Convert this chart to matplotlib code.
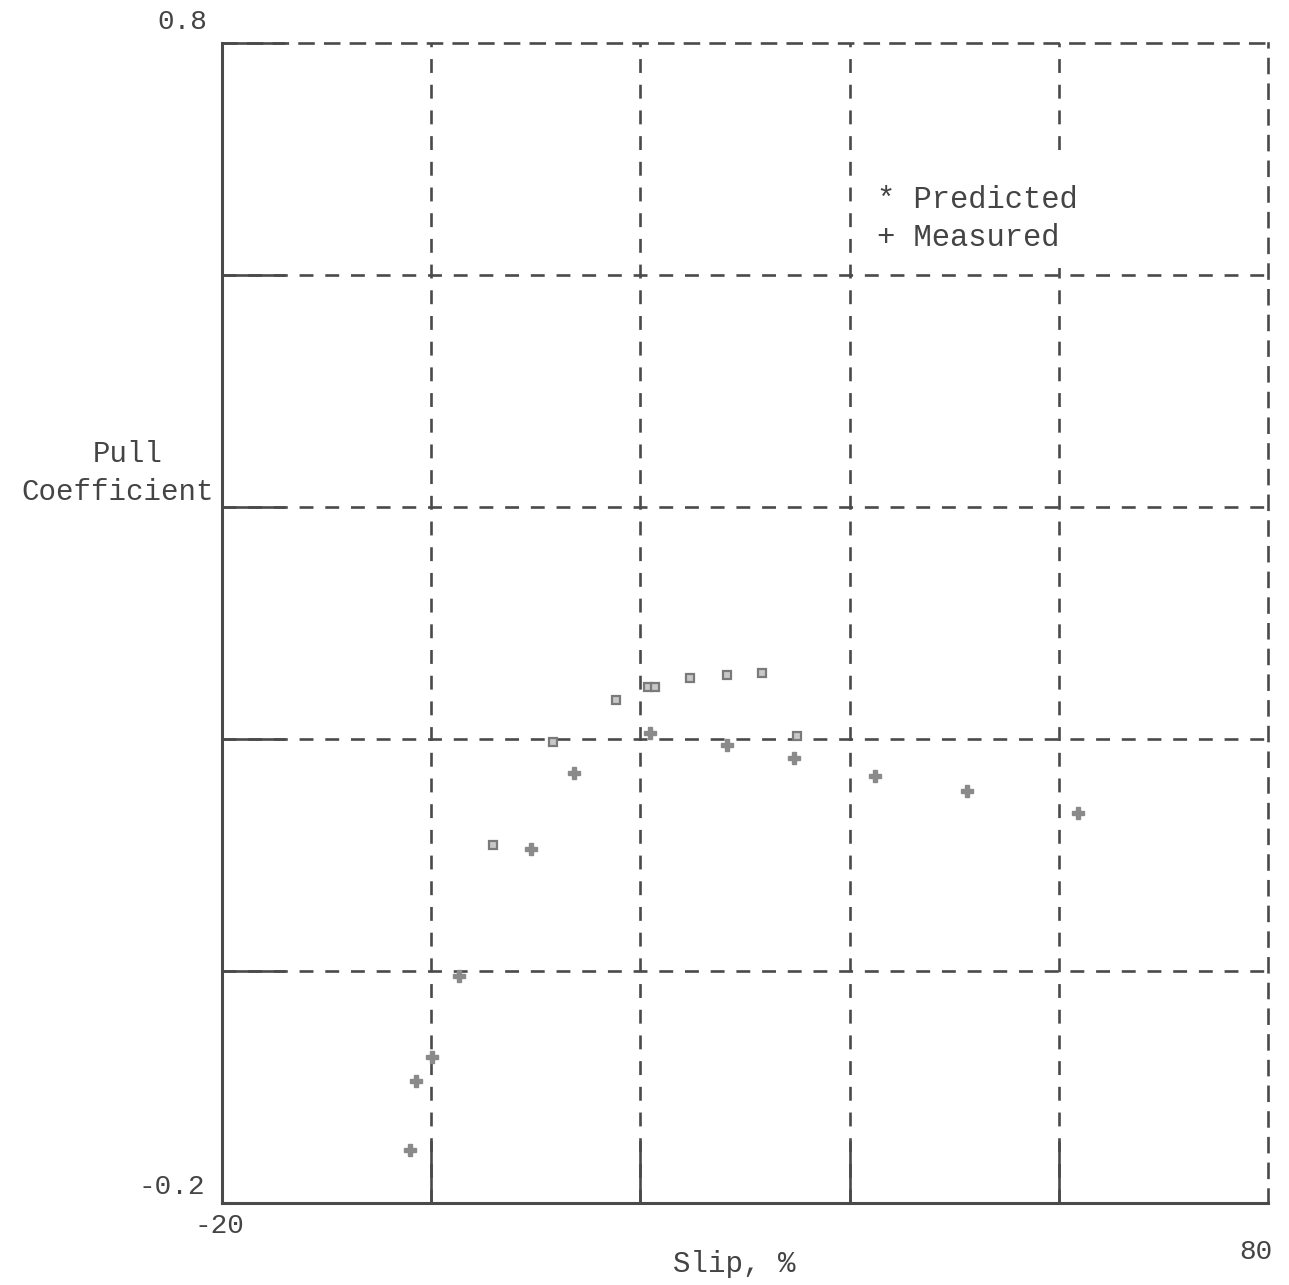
import matplotlib
matplotlib.use("Agg")
import matplotlib.pyplot as plt
from matplotlib.patches import Rectangle

plt.rcParams['lines.scale_dashes'] = False
plt.rcParams['font.family'] = ['Liberation Mono', 'DejaVu Sans Mono']

# ---- data ----
pred_slip = [5.9, 11.6, 17.7, 20.7, 21.4, 24.7, 28.3, 31.6, 35.0]
pred_pull = [0.109, 0.197, 0.234, 0.245, 0.245, 0.253, 0.255, 0.257, 0.203]

meas_slip = [-2.0, -1.45, 0.1, 2.7, 9.5, 13.65, 20.9, 28.3, 34.7, 42.4, 51.2, 61.8]
meas_pull = [-0.154, -0.095, -0.074, -0.004, 0.105, 0.171, 0.205, 0.195, 0.184, 0.168, 0.155, 0.136]

x_grid = [0, 20, 40, 60]
y_grid = [0.0, 0.2, 0.4, 0.6, 0.8]
x_min, x_max = -20, 80
y_min, y_max = -0.2, 0.8

W, H = 1289, 1285
fig = plt.figure(figsize=(W / 100, H / 100), dpi=100)
fig.patch.set_facecolor('white')

L, R, T, B = 222, 1268, 43, 1203
ax = fig.add_axes([L / W, (H - B) / H, (R - L) / W, (B - T) / H])
ax.set_xlim(x_min, x_max)
ax.set_ylim(y_min, y_max)

lc = '#4a4a4a'
dash = (0, (10, 8.5))
for xv in x_grid:
    ax.axvline(xv, color=lc, lw=1.9, linestyle=dash, zorder=1)
for yv in y_grid[:-1]:
    ax.axhline(yv, color=lc, lw=1.9, linestyle=dash, zorder=1)

for s in ['left', 'bottom']:
    ax.spines[s].set_color(lc)
    ax.spines[s].set_linewidth(2.2)
for s in ['top', 'right']:
    ax.spines[s].set_color(lc)
    ax.spines[s].set_linewidth(1.9)
    ax.spines[s].set_linestyle(dash)

ax.set_xticks(x_grid)
ax.set_yticks(y_grid)
ax.tick_params(axis='x', direction='in', length=45, width=1.9, color=lc,
               labelbottom=False, top=False)
ax.tick_params(axis='y', direction='in', length=45, width=1.9, color=lc,
               labelleft=False, right=False)

mc = '#8a8a8a'
ax.plot(pred_slip, pred_pull, linestyle='none', marker='s', markersize=6,
        markerfacecolor='#c8c8c8', markeredgecolor='#7a7a7a', markeredgewidth=1.6, zorder=3)
ax.plot(meas_slip, meas_pull, linestyle='none', marker='P', markersize=8.5,
        color=mc, markeredgecolor=mc, zorder=3)

tc = '#444444'
fs = 21
def ftext(px, py, s, size=fs, **kw):
    fig.text(px / W, 1 - py / H, s, fontsize=size, color=tc, **kw)

ftext(182, 22, '0.8', size=20, ha='center', va='center')
ftext(172, 1187, '-0.2', size=20, ha='center', va='center')
ftext(219, 1226, '-20', size=20, ha='center', va='center')
ftext(1256, 1252, '80', size=20, ha='center', va='center')
ftext(734, 1264, 'Slip, %', ha='center', va='center')
ftext(128, 454, 'Pull', ha='center', va='center')
ftext(214, 492, 'Coefficient', ha='right', va='center')

# legend block (white area covering the grid line behind it)
fig.patches.append(Rectangle((862 / W, 1 - 268 / H), 240 / W, 110 / H,
                             transform=fig.transFigure, facecolor='white',
                             edgecolor='none', zorder=2))
fig.text(877 / W, 1 - 200 / H, '* Predicted', fontsize=22, color=tc,
         ha='left', va='center', zorder=3)
fig.text(877 / W, 1 - 238 / H, '+ Measured', fontsize=22, color=tc,
         ha='left', va='center', zorder=3)

fig.savefig('out.png', dpi=100, facecolor='white')
